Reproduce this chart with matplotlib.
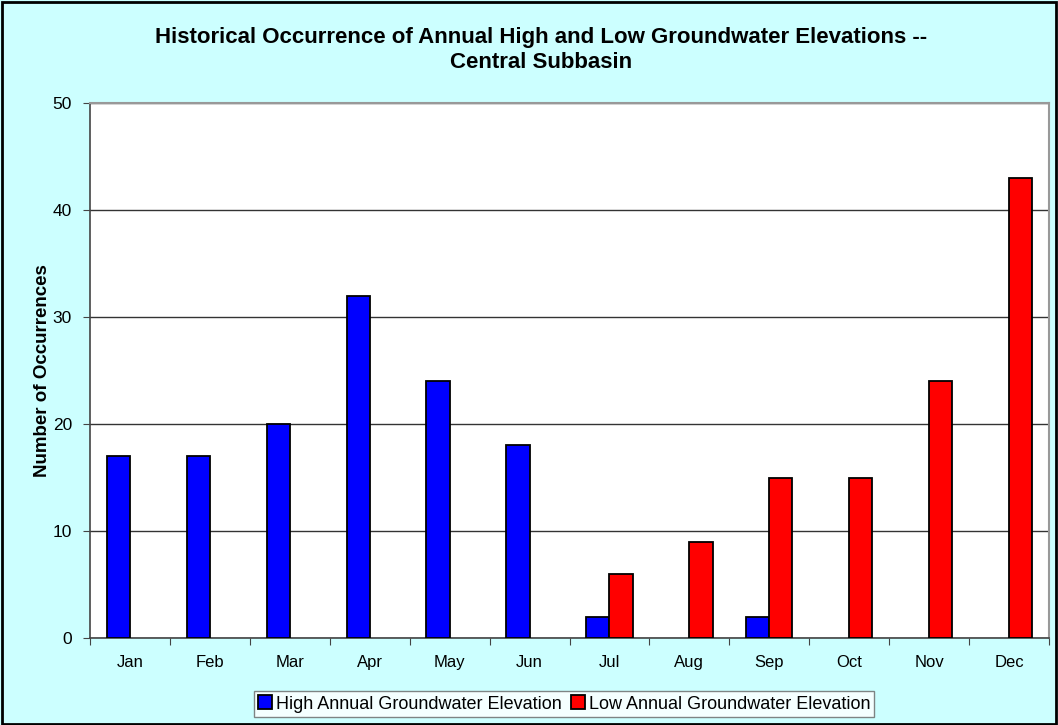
import matplotlib
matplotlib.use("Agg")
import matplotlib.pyplot as plt
import numpy as np
from matplotlib.patches import Rectangle

plt.rcParams['font.family'] = ['Liberation Sans', 'DejaVu Sans']

months = ["Jan", "Feb", "Mar", "Apr", "May", "Jun", "Jul", "Aug", "Sep", "Oct", "Nov", "Dec"]
high_counts = [17, 17, 20, 32, 24, 18, 2, 0, 2, 0, 0, 0]
low_counts = [0, 0, 0, 0, 0, 0, 6, 9, 15, 15, 24, 43]
high_label = "High Annual Groundwater Elevation"
low_label = "Low Annual Groundwater Elevation"
title = "Historical Occurrence of Annual High and Low Groundwater Elevations --\nCentral Subbasin"
ylabel = "Number of Occurrences"

W, H = 1058, 725
fig = plt.figure(figsize=(W / 100, H / 100), dpi=100, facecolor="#CCFFFF")
fig.patches.append(Rectangle((0.002, 0.002), 0.996, 0.995, transform=fig.transFigure,
                             fill=False, edgecolor="black", linewidth=2))

left, right, top, bottom = 90, 1049, 103, 638
ax = fig.add_axes([left / W, 1 - bottom / H, (right - left) / W, (bottom - top) / H])
ax.set_facecolor("white")

x = np.arange(len(months))
bw = 0.29
# zero counts are left undrawn (no flat outline at the baseline)
high = np.array(high_counts, dtype=float)
low = np.array(low_counts, dtype=float)
high[high == 0] = np.nan
low[low == 0] = np.nan
ax.bar(x - bw / 2, high, bw, color="#0000FF", edgecolor="black", linewidth=1.3,
       label=high_label, zorder=3)
ax.bar(x + bw / 2, low, bw, color="#FF0000", edgecolor="black", linewidth=1.3,
       label=low_label, zorder=3)

ax.set_xlim(-0.5, len(months) - 0.5)
ax.set_ylim(0, 50)
ax.set_yticks(range(0, 51, 10))
ax.yaxis.grid(True, color="#333333", linewidth=1, zorder=0)
ax.set_xticks(np.arange(-0.5, len(months), 1.0))
ax.set_xticklabels([])
ax.set_xticks(x, minor=True)
ax.set_xticklabels(months, minor=True)
ax.tick_params(axis="x", which="major", length=5, color="#444444", direction="out")
ax.tick_params(axis="x", which="minor", length=0, pad=12, labelsize=12)
ax.tick_params(axis="y", length=5, color="#444444", labelsize=12.5, pad=8)

for s in ["top", "right"]:
    ax.spines[s].set_color("#999999")
    ax.spines[s].set_linewidth(1.5)
for s in ["left", "bottom"]:
    ax.spines[s].set_color("#444444")
    ax.spines[s].set_linewidth(1.2)

ax.set_ylabel(ylabel, fontsize=13.5, fontweight="bold", labelpad=1)

fig.text(0.511, 1 - 50 / H, title, ha="center", va="center", fontsize=16,
         fontweight="bold", linespacing=1.2)

leg = fig.legend(loc="center", bbox_to_anchor=(564 / W, 1 - 704 / H), ncol=2,
                 frameon=True, fancybox=False, edgecolor="#666666", fontsize=13,
                 handlelength=0.8, handleheight=0.8, handletextpad=0.2,
                 columnspacing=0.5, borderpad=0.22, borderaxespad=0)
leg.get_frame().set_linewidth(1.0)

fig.savefig("out.png", dpi=100, facecolor=fig.get_facecolor())
